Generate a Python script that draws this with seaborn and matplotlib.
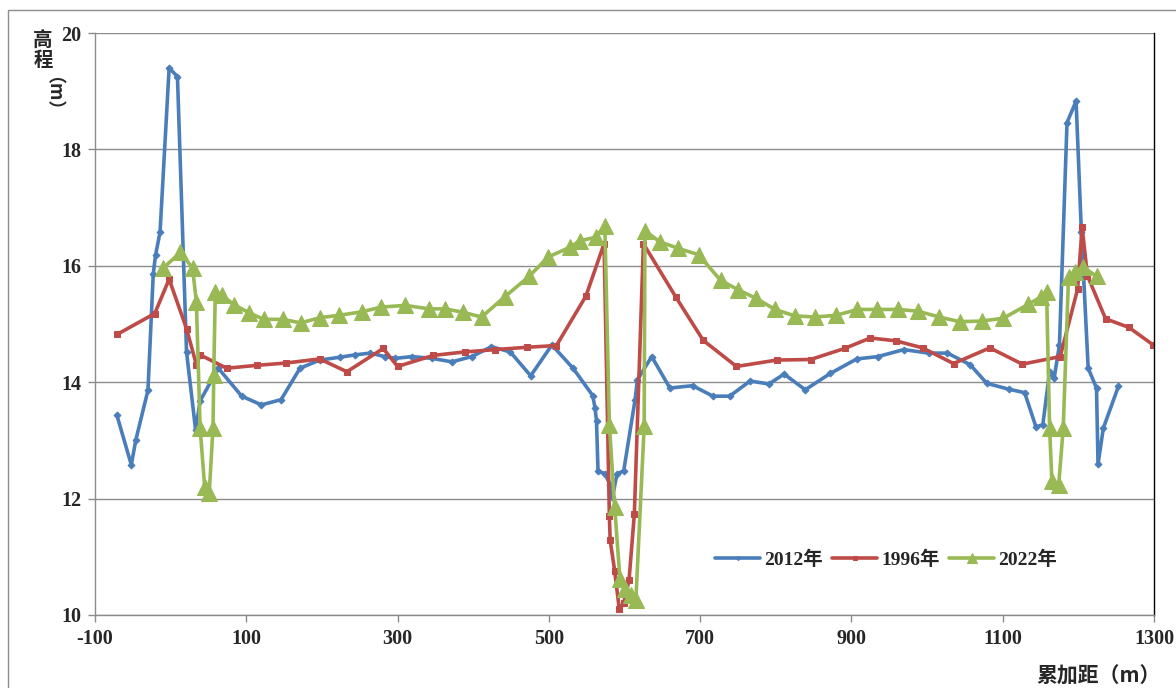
import matplotlib
matplotlib.use("Agg")
import matplotlib.pyplot as plt
import seaborn as sns
import pandas as pd
from matplotlib.patches import Rectangle

# 2012
x2012 = [-71, -52, -46, -30, -23, -20, -14, -2, 9, 21, 33, 39, 63, 94, 120, 146, 171, 197, 224, 244,
         264, 283, 297, 319, 345, 372, 398, 424, 449, 476, 504, 532, 558, 561, 563, 565, 574, 581, 584, 590,
         599, 614, 617, 636, 660, 690, 717, 739, 766, 791, 811, 839, 872, 907, 935, 969, 1002, 1027, 1057, 1079,
         1108, 1129, 1144, 1153, 1162, 1168, 1175, 1185, 1197, 1204, 1213, 1224, 1226, 1233, 1253]
y2012 = [13.43, 12.58, 13.01, 13.86, 15.86, 16.18, 16.58, 19.40, 19.25, 14.52, 13.18, 13.68, 14.24, 13.76, 13.61, 13.70, 14.24, 14.38, 14.43, 14.47,
         14.50, 14.44, 14.41, 14.44, 14.41, 14.35, 14.44, 14.61, 14.52, 14.11, 14.64, 14.24, 13.77, 13.56, 13.33, 12.47, 12.43, 12.24, 12.02, 12.42,
         12.48, 13.70, 14.04, 14.44, 13.90, 13.94, 13.76, 13.76, 14.02, 13.97, 14.14, 13.87, 14.15, 14.40, 14.44, 14.56, 14.50, 14.50, 14.30, 13.98,
         13.88, 13.82, 13.23, 13.27, 14.18, 14.07, 14.64, 18.46, 18.83, 16.58, 14.24, 13.90, 12.59, 13.21, 13.93]

# 1996
x1996 = [-71, -21, -2, 21, 34, 39, 74, 114, 153, 197, 233, 281, 300, 347, 389, 429, 471, 510, 549, 573,
         580, 581, 587, 593, 599, 606, 613, 625, 668, 704, 748, 801, 846, 891, 925, 959, 994, 1035, 1083, 1126,
         1176, 1199, 1205, 1212, 1236, 1267, 1299]
y1996 = [14.82, 15.18, 15.77, 14.92, 14.30, 14.47, 14.24, 14.29, 14.33, 14.40, 14.18, 14.58, 14.27, 14.46, 14.52, 14.56, 14.60, 14.63, 15.48, 16.38,
         11.70, 11.29, 10.76, 10.11, 10.21, 10.60, 11.73, 16.38, 15.46, 14.72, 14.27, 14.38, 14.39, 14.58, 14.76, 14.71, 14.59, 14.32, 14.59, 14.31,
         14.44, 15.60, 16.66, 15.83, 15.09, 14.94, 14.64]

# 2022
x2022 = [-10, 13, 29, 34, 39, 45, 51, 56, 57, 59, 68, 84, 104, 123, 148, 172, 198, 223, 253, 278,
         310, 342, 363, 387, 411, 442, 474, 499, 528, 541, 562, 574, 580, 587, 594, 601, 608, 615, 626, 627,
         647, 671, 698, 727, 750, 774, 799, 825, 852, 880, 908, 934, 962, 988, 1016, 1043, 1072, 1101, 1134, 1150,
         1158, 1162, 1165, 1174, 1180, 1187, 1195, 1206, 1224]
y2022 = [15.96, 16.23, 15.96, 15.38, 13.21, 12.20, 12.10, 13.21, 14.13, 15.55, 15.49, 15.33, 15.19, 15.08, 15.08, 15.02, 15.11, 15.15, 15.21, 15.29,
         15.32, 15.26, 15.26, 15.20, 15.12, 15.47, 15.82, 16.15, 16.32, 16.43, 16.49, 16.69, 13.27, 11.85, 10.62, 10.45, 10.34, 10.25, 13.24, 16.60,
         16.41, 16.30, 16.19, 15.75, 15.59, 15.44, 15.25, 15.14, 15.12, 15.15, 15.25, 15.25, 15.25, 15.22, 15.12, 15.04, 15.05, 15.10, 15.34, 15.46,
         15.55, 13.21, 12.30, 12.24, 13.21, 15.81, 15.90, 15.98, 15.82]

x_ticks = [-100, 100, 300, 500, 700, 900, 1100, 1300]
y_ticks = [10, 12, 14, 16, 18, 20]

sns.set_style("white")
plt.rcParams['font.family'] = ['Liberation Serif', 'Noto Sans CJK SC', 'DejaVu Sans']
plt.rcParams['axes.unicode_minus'] = False

fig = plt.figure(figsize=[11.76, 6.88], dpi=100)
ax = fig.add_axes([95/1176, 73/688, 1059/1176, 582/688])

series = [
    ("2012年", x2012, y2012, "#4A7EBB", "D", 3.5),
    ("1996年", x1996, y1996, "#BE4B48", "s", 5),
    ("2022年", x2022, y2022, "#98B954", "^", 11),
]
for name, xs, ys, col, mk, ms in series:
    df = pd.DataFrame({"x": xs, "y": ys})
    sns.lineplot(data=df, x="x", y="y", ax=ax, sort=False, estimator=None, color=col,
                 lw=2.6, marker=mk, markersize=ms, markeredgecolor=col, markerfacecolor=col,
                 label=name, clip_on=True)

ax.set_xlim(-100, 1300)
ax.set_ylim(10, 20)
ax.set_xticks(x_ticks)
ax.set_yticks(y_ticks)
ax.set_xlabel("")
ax.set_ylabel("")
ax.yaxis.grid(True, color="#8c8c8c", lw=1)
ax.xaxis.grid(False)
for s in ["left", "bottom"]:
    ax.spines[s].set_color("#8c8c8c")
    ax.spines[s].set_linewidth(1)
ax.spines["top"].set_visible(False)
ax.spines["right"].set_color("black")
ax.spines["right"].set_linewidth(1)
ax.tick_params(axis="both", direction="out", length=5, width=1, color="#8c8c8c",
               labelsize=14.5, pad=5, bottom=True, left=True)
for lab in ax.get_xticklabels() + ax.get_yticklabels():
    lab.set_fontweight("bold")

leg = ax.legend(loc="center", bbox_to_anchor=(0.747, 0.095), ncol=3, frameon=False,
                handlelength=2.3, columnspacing=0.5, handletextpad=0.2, markerscale=0.6,
                prop={"weight": "bold", "size": 14})

fig.text(43/1176, 1-51/688, "高\n程", ha="center", va="center", fontsize=14,
         fontweight="bold", linespacing=1.05, family=["Noto Sans CJK SC"])
fig.text(43/1176, 1-103/688, "（m）", ha="center", va="center", fontsize=13,
         fontweight="bold", rotation=-90, family=["Noto Sans CJK SC"])
fig.text(1099/1176, 1-676/688, "累加距（m）", ha="center", va="center", fontsize=15,
         fontweight="bold", family=["Noto Sans CJK SC"])

fig.add_artist(Rectangle((8/1176, -0.02), 1.0, 1-10/688+0.02, transform=fig.transFigure,
                         fill=False, edgecolor="#8c8c8c", lw=1))

fig.savefig("out.png", dpi=100)
